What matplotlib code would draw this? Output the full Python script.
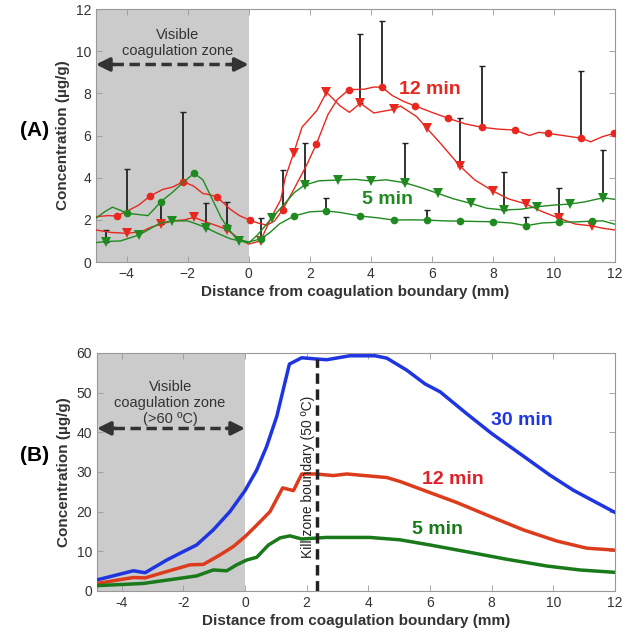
import matplotlib
matplotlib.use("Agg")
import matplotlib.pyplot as plt
import numpy as np
from matplotlib.ticker import FuncFormatter

plt.rcParams['font.family'] = ['Liberation Sans', 'DejaVu Sans']

# ---------------- panel A data ----------------
# 12 min, circles
rc_x = [-5, -4.6, -4.32, -4.0, -3.6, -3.23, -2.8, -2.5, -2.14, -1.8, -1.5, -1.3, -1.05, -0.6, -0.3,
        0.03, 0.3, 0.6, 0.85, 1.11, 1.5, 1.9, 2.22, 2.6, 2.9, 3.28, 3.8, 4.1, 4.37, 4.7, 5.1, 5.46,
        6.0, 6.53, 7.1, 7.64, 8.2, 8.71, 9.2, 9.5, 9.8, 10.3, 10.89, 11.2, 11.6, 11.97, 12]
rc_y = [2.15, 2.2, 2.18, 2.4, 2.7, 3.13, 3.45, 3.55, 3.81, 3.6, 3.25, 3.2, 3.1, 2.5, 2.2,
        1.99, 1.85, 1.75, 1.95, 2.47, 3.5, 4.6, 5.6, 7.0, 7.7, 8.17, 8.2, 8.3, 8.29, 7.9, 7.6, 7.4,
        7.1, 6.82, 6.55, 6.39, 6.3, 6.26, 6.0, 6.15, 6.1, 6.0, 5.87, 5.7, 5.95, 6.1, 6.1]
rc_mk = [-4.32, -3.23, -2.14, -1.05, 0.03, 1.11, 2.22, 3.28, 4.37, 5.46, 6.53, 7.64, 8.71, 9.8, 10.89, 11.97]
rc_err_x = [-2.14, 1.11, 4.37, 7.64, 10.89]
rc_err_y = [3.81, 2.47, 8.29, 6.39, 5.87]
rc_err = [3.32, 1.89, 3.16, 2.91, 3.19]

# 12 min, triangles
rt_x = [-5, -4.5, -3.97, -3.5, -3.2, -2.88, -2.5, -2.1, -1.79, -1.4, -1.0, -0.7, -0.3, 0.0, 0.39,
        0.7, 1.05, 1.2, 1.48, 1.75, 2.0, 2.24, 2.55, 3.0, 3.3, 3.66, 4.1, 4.75, 4.97, 5.5, 5.84,
        6.3, 6.91, 7.4, 8.0, 8.5, 9.09, 9.6, 10.18, 10.7, 11.25, 11.6, 12]
rt_y = [1.52, 1.4, 1.36, 1.45, 1.65, 1.79, 1.95, 2.0, 2.12, 1.9, 1.7, 1.52, 1.1, 0.85, 1.0,
        2.0, 2.95, 4.0, 5.19, 6.4, 6.8, 7.2, 8.05, 7.4, 7.1, 7.53, 7.07, 7.24, 7.4, 6.9, 6.34,
        5.6, 4.57, 3.9, 3.37, 3.0, 2.75, 2.4, 2.07, 1.8, 1.71, 1.6, 1.52]
rt_mk = [-3.97, -2.88, -1.79, -0.7, 0.39, 1.48, 2.55, 3.66, 4.75, 5.84, 6.91, 8.0, 9.09, 10.18, 11.25]
rt_err_x = [-2.88, -0.7, 3.66, 6.91, 10.18]
rt_err_y = [1.79, 1.52, 7.53, 4.57, 2.07]
rt_err = [1.1, 1.34, 3.29, 2.25, 1.46]

# 5 min, circles
gc_x = [-5, -4.7, -4.46, -4.2, -3.97, -3.6, -3.3, -3.1, -2.88, -2.5, -2.2, -1.79, -1.5, -1.2, -0.9,
        -0.7, -0.4, 0.0, 0.39, 0.7, 1.0, 1.48, 2.0, 2.55, 3.0, 3.66, 4.2, 4.75, 5.3, 5.84, 6.4,
        6.91, 7.5, 8.0, 8.6, 9.09, 9.6, 10.18, 10.7, 11.25, 11.6, 12]
gc_y = [2.08, 2.4, 2.6, 2.45, 2.31, 2.25, 2.2, 2.5, 2.86, 3.3, 3.7, 4.21, 3.9, 3.0, 2.1,
        1.65, 1.1, 0.95, 1.09, 1.4, 1.8, 2.18, 2.38, 2.42, 2.35, 2.18, 2.1, 1.99, 2.0, 1.99, 1.95,
        1.94, 1.92, 1.91, 1.85, 1.72, 1.85, 1.89, 1.9, 1.94, 1.95, 1.79]
gc_mk = [-3.97, -2.88, -1.79, -0.7, 0.39, 1.48, 2.55, 3.66, 4.75, 5.84, 6.91, 8.0, 9.09, 10.18, 11.25]
gc_err_x = [-3.97, 0.39, 2.55, 5.84, 9.09]
gc_err_y = [2.31, 1.09, 2.42, 1.99, 1.72]
gc_err = [2.09, 0.98, 0.6, 0.48, 0.43]

# 5 min, triangles
gt_x = [-5, -4.68, -4.2, -3.59, -3.2, -2.9, -2.5, -2.0, -1.7, -1.41, -1.0, -0.6, -0.32, 0.0, 0.3,
        0.75, 1.2, 1.5, 1.84, 2.3, 2.93, 3.5, 4.02, 4.5, 5.11, 5.6, 6.19, 6.7, 7.28, 7.8, 8.35,
        8.9, 9.44, 10.0, 10.53, 11.0, 11.62, 12]
gt_y = [0.92, 0.97, 1.0, 1.28, 1.6, 1.85, 1.95, 1.95, 1.8, 1.63, 1.35, 1.1, 1.01, 0.9, 1.3,
        2.07, 2.8, 3.3, 3.65, 3.85, 3.89, 3.92, 3.84, 3.9, 3.76, 3.55, 3.26, 3.0, 2.78, 2.55, 2.47,
        2.5, 2.62, 2.7, 2.75, 2.85, 3.05, 2.97]
gt_mk = [-4.68, -3.59, -2.5, -1.41, -0.32, 0.75, 1.84, 2.93, 4.02, 5.11, 6.19, 7.28, 8.35, 9.44, 10.53, 11.62]
gt_err_x = [-4.68, -1.41, 1.84, 5.11, 8.35, 11.62]
gt_err_y = [0.97, 1.63, 3.65, 3.76, 2.47, 3.05]
gt_err = [0.55, 1.15, 1.98, 1.9, 1.82, 2.24]

# ---------------- panel B data ----------------
b30_x = [-4.8, -3.62, -3.24, -2.54, -2.11, -1.57, -1.03, -0.49, 0.0, 0.38, 0.7, 1.03, 1.44, 1.84,
         2.3, 2.65, 3.4, 4.22, 4.6, 5.24, 5.84, 6.33, 7.19, 8.0, 8.92, 9.89, 10.65, 12.0]
b30_y = [2.8, 5.1, 4.6, 7.8, 9.5, 11.6, 15.4, 20.0, 25.3, 30.5, 36.4, 44.0, 57.2, 58.8,
         58.5, 58.3, 59.3, 59.3, 58.7, 55.7, 52.2, 50.2, 44.7, 39.7, 34.6, 29.2, 25.4, 19.8]
b12_x = [-4.8, -3.62, -3.24, -2.54, -1.78, -1.35, -0.81, -0.38, 0.0, 0.38, 0.81, 1.22, 1.57, 1.84,
         2.3, 2.86, 3.3, 4.6, 5.03, 6.0, 6.87, 7.95, 9.03, 10.11, 11.08, 12.0]
b12_y = [1.9, 3.4, 3.3, 4.9, 6.6, 6.7, 9.1, 11.2, 13.7, 16.6, 20.0, 26.0, 25.3, 29.5,
         29.5, 29.1, 29.5, 28.6, 27.6, 24.8, 22.3, 18.8, 15.4, 12.6, 10.8, 10.3]
b5_x = [-4.8, -3.3, -2.11, -1.57, -1.03, -0.59, -0.27, 0.05, 0.38, 0.76, 1.14, 1.46, 1.84, 2.63,
        3.4, 4.05, 5.03, 6.0, 7.19, 8.49, 9.79, 10.86, 12.0]
b5_y = [1.35, 1.9, 3.2, 3.8, 5.3, 5.1, 6.6, 7.8, 8.5, 11.6, 13.4, 13.9, 13.1, 13.5,
        13.5, 13.5, 12.9, 11.6, 9.9, 8.0, 6.3, 5.3, 4.7]
kill_x = 2.33
kill_top = 58.6

RED = '#e8281e'
GREEN = '#1f8a1f'
TXT = '#333333'

fig = plt.figure(figsize=(6.25, 6.35), dpi=100)
axA = fig.add_axes([0.1536, 0.5874, 0.8304, 0.3984])
axB = fig.add_axes([0.1552, 0.0693, 0.8288, 0.3748])


def style(ax):
    for s in ax.spines.values():
        s.set_color('#999999')
        s.set_linewidth(0.8)
    ax.tick_params(direction='in', top=True, right=True, length=4, width=0.6,
                   color='#999999', labelcolor=TXT, labelsize=10)
    ax.set_xlabel('Distance from coagulation boundary (mm)', fontsize=11,
                  fontweight='bold', color=TXT, labelpad=3)
    ax.set_ylabel('Concentration (µg/g)', fontsize=11, fontweight='bold', color=TXT)


def zone_arrow(ax, x0, x1, y):
    ax.plot([x0 + 0.55, x1 - 0.55], [y, y], ls=(0, (3, 1.6)), lw=2.5, color=TXT, zorder=3)
    for a, b in [(x0 + 0.6, x0), (x1 - 0.6, x1)]:
        ax.annotate('', xy=(b, y), xytext=(a, y),
                    arrowprops=dict(arrowstyle='-|>', color=TXT, lw=2.5, mutation_scale=20,
                                    shrinkA=0, shrinkB=0), zorder=3)


# ---------- panel A ----------
ax = axA
ax.axvspan(-5, 0, color='#cbcbcb', lw=0, zorder=0)
series = [(rc_x, rc_y, rc_mk, 'o', 5.5, RED), (rt_x, rt_y, rt_mk, 'v', 6.5, RED),
          (gc_x, gc_y, gc_mk, 'o', 5.5, GREEN), (gt_x, gt_y, gt_mk, 'v', 6.5, GREEN)]
for xs, ys, mk, m, ms, c in series:
    xs = np.array(xs)
    ax.plot(xs, ys, color=c, lw=1.0, marker=m, markersize=ms, markevery=list(np.isin(xs, mk)),
            markeredgewidth=0, zorder=4)
for ex, ey, ee in [(rc_err_x, rc_err_y, rc_err), (rt_err_x, rt_err_y, rt_err),
                   (gc_err_x, gc_err_y, gc_err), (gt_err_x, gt_err_y, gt_err)]:
    ax.errorbar(ex, ey, yerr=[np.zeros(len(ee)), ee], fmt='none', ecolor='#222222',
                elinewidth=1.3, capsize=2, capthick=1, zorder=3)
ax.text(-2.34, 10.4, 'Visible\ncoagulation zone', ha='center', va='center', fontsize=10.5,
        color=TXT, linespacing=1.15)
zone_arrow(ax, -5, 0, 9.37)
ax.text(5.95, 8.2, '12 min', color=RED, fontsize=14, fontweight='bold', ha='center', va='center')
ax.text(4.55, 2.95, '5 min', color=GREEN, fontsize=14, fontweight='bold', ha='center', va='center')
ax.set_xlim(-5, 12)
ax.set_ylim(0, 12)
ax.set_xticks(np.arange(-4, 13, 2))
ax.set_yticks(np.arange(0, 13, 2))
style(ax)

# ---------- panel B ----------
ax = axB
ax.axvspan(-4.8, 0, color='#cbcbcb', lw=0, zorder=0)
ax.plot(b30_x, b30_y, color='#1f35e0', lw=2.5, zorder=4)
ax.plot(b12_x, b12_y, color='#dd3c1c', lw=2.5, zorder=4)
ax.plot(b5_x, b5_y, color='#1a7a1a', lw=2.5, zorder=4)
ax.plot([kill_x, kill_x], [0, kill_top], ls=(0, (3, 1.6)), lw=2.5, color='#222222', zorder=5)
ax.text(2.05, 28.7, 'Kill zone boundary (50 ºC)', rotation=90, ha='center', va='center',
        fontsize=10, color='#222222', zorder=6)
ax.text(-2.43, 47.4, 'Visible\ncoagulation zone\n(>60 ºC)', ha='center', va='center',
        fontsize=10.5, color=TXT, linespacing=1.15)
zone_arrow(ax, -4.8, 0, 41.0)
ax.text(8.98, 43.0, '30 min', color='#1f35e0', fontsize=14, fontweight='bold', ha='center', va='center')
ax.text(6.73, 28.0, '12 min', color='#e0202a', fontsize=14, fontweight='bold', ha='center', va='center')
ax.text(6.23, 15.4, '5 min', color='#1a7a1a', fontsize=14, fontweight='bold', ha='center', va='center')
ax.set_xlim(-4.8, 12)
ax.set_ylim(0, 60)
ax.set_xticks(np.arange(-4, 13, 2))
ax.set_yticks(np.arange(0, 61, 10))
ax.xaxis.set_major_formatter(FuncFormatter(lambda v, p: f'{v:g}'))
style(ax)

fig.text(0.056, 0.795, '(A)', fontsize=15, fontweight='bold', ha='center', va='center')
fig.text(0.056, 0.283, '(B)', fontsize=15, fontweight='bold', ha='center', va='center')

fig.savefig('out.png', dpi=100)
